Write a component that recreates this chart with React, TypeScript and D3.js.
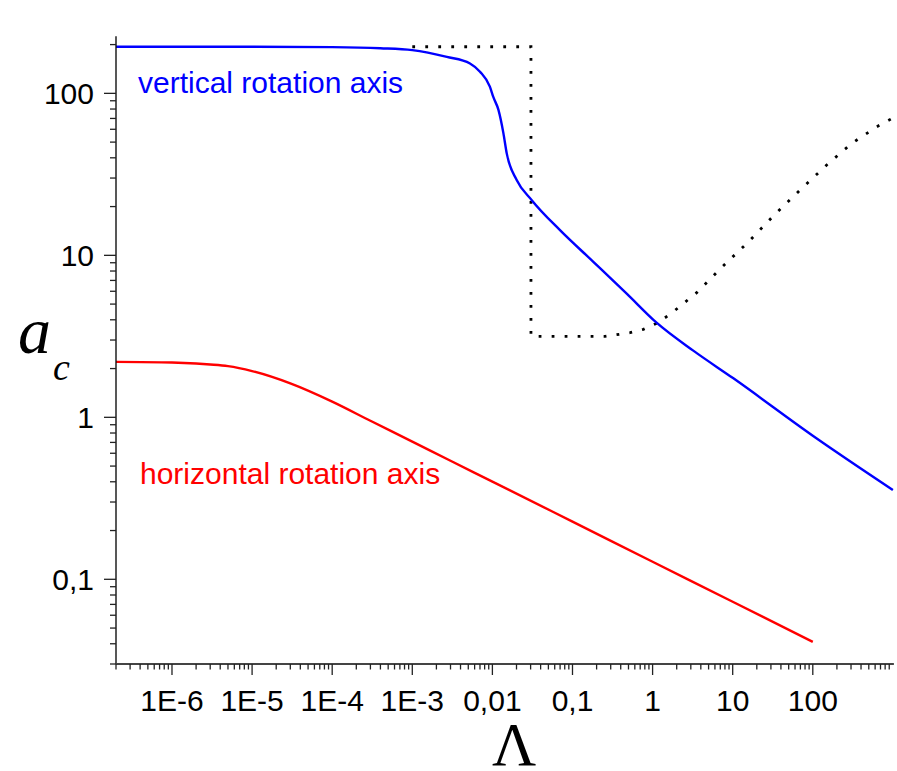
import React from "react";
import * as d3 from "d3";

const xTickValues = [1e-6, 1e-5, 1e-4, 1e-3, 1e-2, 1e-1, 1, 10, 100];
const xTickLabels = ["1E-6", "1E-5", "1E-4", "1E-3", "0,01", "0,1", "1", "10", "100"];
const yTickValues = [0.1, 1, 10, 100];
const yTickLabels = ["0,1", "1", "10", "100"];

// vertical rotation axis (blue)
const verticalX = [2e-7, 1e-5, 1e-4, 4e-4, 1e-3, 2.7e-3, 5.25e-3, 7e-3, 9.3e-3, 0.01026, 0.0119, 0.0137, 0.0151, 0.0201, 0.031, 0.0698, 0.182, 0.475, 1.12, 3.22, 10.2, 100, 1000];
const verticalY = [194, 194, 193, 190, 185, 168, 153, 136, 110, 95, 79, 57, 42.6, 29.2, 21.9, 14.3, 9.12, 5.8, 3.84, 2.58, 1.74, 0.77, 0.356];

// horizontal rotation axis (red)
const horizontalX = [2e-7, 1e-6, 2e-6, 3e-6, 5e-6, 1e-5, 3e-5, 1e-4, 3e-4, 1e-3, 3e-3, 1e-2, 0.1, 1, 10, 100];
const horizontalY = [2.2, 2.18, 2.15, 2.12, 2.07, 1.93, 1.62, 1.25, 0.952, 0.708, 0.539, 0.401, 0.227, 0.1284, 0.0727, 0.0411];

// dotted curve (black)
const dottedX = [1e-3, 0.0303, 0.0303, 0.0805, 0.255, 0.523, 0.766, 1.12, 1.65, 3.55, 7.29, 15.7, 32.1, 69.2, 149, 306, 628, 1000];
const dottedY = [194, 194, 3.16, 3.16, 3.16, 3.33, 3.49, 3.8, 4.32, 5.88, 8.43, 12.1, 17.5, 25.3, 36.1, 49.1, 62.2, 70.5];

const W = 897;
const H = 771;

export default function App() {
  const x = d3.scaleLog().domain([2e-7, 1000]).range([116, 892.9]);
  const y = d3.scaleLog().domain([0.03, 225]).range([664, 36.3]);

  const toPts = (xs: number[], ys: number[]) => xs.map((v, i) => [v, ys[i]] as [number, number]);

  const smooth = d3
    .line<[number, number]>()
    .x((d) => x(d[0]))
    .y((d) => y(d[1]))
    .curve(d3.curveMonotoneX);
  const straight = d3
    .line<[number, number]>()
    .x((d) => x(d[0]))
    .y((d) => y(d[1]));

  // minor ticks
  const xMinor: number[] = [];
  for (let e = -7; e <= 2; e++) {
    for (let m = 2; m <= 9; m++) {
      const v = m * Math.pow(10, e);
      if (v >= 2e-7 * 0.999 && v < 999) xMinor.push(v);
    }
  }
  const yMinor: number[] = [];
  for (let e = -2; e <= 2; e++) {
    for (let m = 2; m <= 9; m++) {
      const v = m * Math.pow(10, e);
      if (v >= 0.03 * 0.999 && v <= 200 * 1.001) yMinor.push(v);
    }
  }

  const x0 = x.range()[0];
  const x1 = x.range()[1];
  const yb = y.range()[0];
  const yt = y.range()[1];

  return (
    <svg width={W} height={H} style={{ position: "absolute", left: 0, top: 0, background: "#fff" }}>
      <rect x={0} y={0} width={W} height={H} fill="#fff" />
      {/* curves */}
      <path d={straight(toPts(dottedX, dottedY)) || ""} fill="none" stroke="#000" strokeWidth={2.8} strokeDasharray="2.8 10.2" />
      <path d={smooth(toPts(verticalX, verticalY)) || ""} fill="none" stroke="#0000ff" strokeWidth={2.4} />
      <path d={smooth(toPts(horizontalX, horizontalY)) || ""} fill="none" stroke="#ff0000" strokeWidth={2.4} />

      {/* y axis */}
      <line x1={x0} x2={x0} y1={yt} y2={yb} stroke="#111" strokeWidth={1.4} />
      {yTickValues.map((v) => (
        <line key={"ymaj" + v} x1={x0} x2={x0 - 12} y1={y(v)} y2={y(v)} stroke="#222" strokeWidth={1.3} />
      ))}
      {yMinor.map((v) => (
        <line key={"ymin" + v} x1={x0} x2={x0 - 6} y1={y(v)} y2={y(v)} stroke="#222" strokeWidth={1.3} />
      ))}
      {yTickValues.map((v, i) => (
        <text key={"yl" + v} x={94} y={y(v) + 11} textAnchor="end" fontFamily="'Liberation Sans', Arial, sans-serif" fontSize={30} fill="#000">
          {yTickLabels[i]}
        </text>
      ))}

      {/* x axis */}
      <line x1={x0} x2={x1 + 1} y1={yb} y2={yb} stroke="#444" strokeWidth={1.8} />
      {xTickValues.map((v) => (
        <line key={"xmaj" + v} x1={x(v)} x2={x(v)} y1={yb} y2={yb + 11} stroke="#222" strokeWidth={1.3} />
      ))}
      {xMinor.map((v) => (
        <line key={"xmin" + v} x1={x(v)} x2={x(v)} y1={yb} y2={yb + 5.5} stroke="#222" strokeWidth={1.3} />
      ))}
      {xTickValues.map((v, i) => (
        <text key={"xl" + v} x={x(v)} y={710.7} textAnchor="middle" fontFamily="'Liberation Sans', Arial, sans-serif" fontSize={30} fill="#000">
          {xTickLabels[i]}
        </text>
      ))}

      {/* axis titles */}
      <text x={514} y={765} textAnchor="middle" fontFamily="'Liberation Serif', 'Times New Roman', serif" fontSize={61} fill="#000">
        Λ
      </text>
      <text x={18} y={353} fontFamily="'Liberation Serif', 'Times New Roman', serif" fontStyle="italic" fontSize={66} fill="#000">
        a
      </text>
      <text x={53} y={380} fontFamily="'Liberation Serif', 'Times New Roman', serif" fontStyle="italic" fontSize={38} fill="#000">
        c
      </text>

      {/* series labels */}
      <text x={138} y={93.3} fontFamily="'Liberation Sans', Arial, sans-serif" fontSize={30} fill="#0000ff">
        vertical rotation axis
      </text>
      <text x={140} y={484.3} fontFamily="'Liberation Sans', Arial, sans-serif" fontSize={30} fill="#ff0000">
        horizontal rotation axis
      </text>
    </svg>
  );
}
